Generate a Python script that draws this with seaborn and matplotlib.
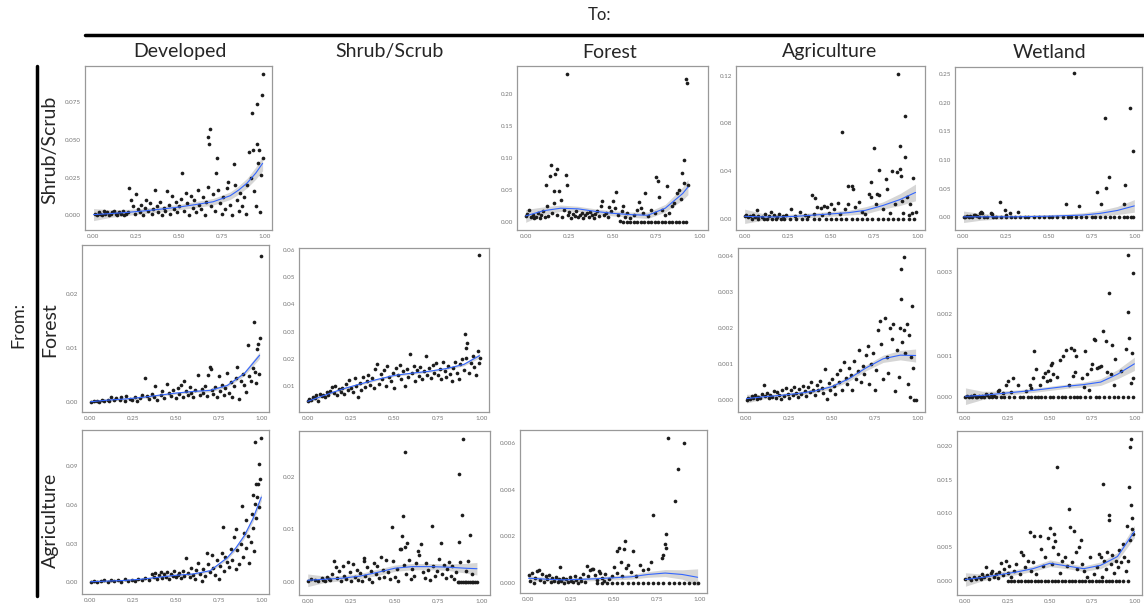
import numpy as np
import matplotlib
matplotlib.use("Agg")
import matplotlib.pyplot as plt
import seaborn as sns
from matplotlib.ticker import FormatStrFormatter

# --- 1. DATA ---

COLUMNS = ["Developed", "Shrub/Scrub", "Forest", "Agriculture", "Wetland"]
ROWS = ["Shrub/Scrub", "Forest", "Agriculture"]
X_TICKS = [0.0, 0.25, 0.5, 0.75, 1.0]

# Shrub/Scrub -> Developed
sd_x = [0.01, 0.02, 0.03, 0.04, 0.05, 0.06, 0.07, 0.08, 0.09, 0.10, 0.11, 0.12, 0.13, 0.14, 0.15, 0.16, 0.17, 0.18, 0.19, 0.20,
        0.21, 0.22, 0.23, 0.24, 0.25, 0.26, 0.27, 0.28, 0.29, 0.30, 0.31, 0.32, 0.33, 0.34, 0.35, 0.36, 0.37, 0.38, 0.39, 0.40,
        0.41, 0.42, 0.43, 0.44, 0.45, 0.46, 0.47, 0.48, 0.49, 0.50, 0.51, 0.52, 0.53, 0.54, 0.55, 0.56, 0.57, 0.58, 0.59, 0.60,
        0.61, 0.62, 0.63, 0.64, 0.65, 0.66, 0.67, 0.672, 0.676, 0.684, 0.69, 0.70, 0.71, 0.715, 0.723, 0.73, 0.74, 0.75,
        0.76, 0.77, 0.78, 0.79, 0.80, 0.81, 0.82, 0.83, 0.84, 0.85, 0.86, 0.87, 0.88, 0.89, 0.90, 0.91, 0.92, 0.93, 0.935,
        0.94, 0.95, 0.955, 0.96, 0.965, 0.97, 0.975, 0.98, 0.985, 0.99, 0.992]
sd_y = [0.001, 0.000, 0.002, 0.001, 0.000, 0.003, 0.001, 0.002, 0.000, 0.001, 0.002, 0.003, 0.001, 0.000, 0.002, 0.001, 0.003, 0.000, 0.001, 0.002,
        0.018, 0.010, 0.006, 0.001, 0.014, 0.004, 0.002, 0.007, 0.000, 0.005, 0.010, 0.003, 0.008, 0.001, 0.004, 0.017, 0.006, 0.002, 0.009, 0.000,
        0.005, 0.003, 0.016, 0.007, 0.001, 0.013, 0.004, 0.009, 0.002, 0.006, 0.011, 0.028, 0.003, 0.015, 0.008, 0.000, 0.013, 0.005, 0.010, 0.002,
        0.017, 0.007, 0.004, 0.012, 0.000, 0.009, 0.019, 0.052, 0.047, 0.057, 0.006, 0.014, 0.003, 0.028, 0.038, 0.017, 0.008, 0.001,
        0.012, 0.004, 0.018, 0.022, 0.007, 0.000, 0.034, 0.020, 0.010, 0.003, 0.015, 0.006, 0.012, 0.001, 0.020, 0.042, 0.025, 0.068, 0.043,
        0.016, 0.006, 0.074, 0.047, 0.035, 0.043, 0.002, 0.027, 0.080, 0.094, 0.038]
sd_zero = []
sd_fit_x = [0.0, 0.1, 0.2, 0.3, 0.4, 0.5, 0.6, 0.7, 0.8, 0.85, 0.9, 0.95, 0.99]
sd_fit_y = [0.0005, 0.0012, 0.0020, 0.0030, 0.0042, 0.0055, 0.0072, 0.0090, 0.0130, 0.0168, 0.0215, 0.0280, 0.0345]
sd_band = [0.0040, 0.0025, 0.0020, 0.0018, 0.0018, 0.0018, 0.0020, 0.0022, 0.0025, 0.0028, 0.0032, 0.0040, 0.0050]

# Shrub/Scrub -> Forest
sf_x = [0.00, 0.01, 0.02, 0.03, 0.04, 0.05, 0.06, 0.07, 0.08, 0.09, 0.10, 0.11, 0.114, 0.12, 0.13, 0.14, 0.145, 0.15, 0.16, 0.162,
        0.168, 0.177, 0.18, 0.19, 0.20, 0.21, 0.22, 0.23, 0.234, 0.237, 0.24, 0.25, 0.26, 0.27, 0.28, 0.29, 0.30, 0.31, 0.32, 0.33,
        0.34, 0.35, 0.36, 0.37, 0.38, 0.39, 0.40, 0.41, 0.42, 0.43, 0.44, 0.45, 0.46, 0.47, 0.48, 0.49, 0.50, 0.51, 0.52, 0.53,
        0.54, 0.55, 0.56, 0.57, 0.58, 0.60, 0.62, 0.64, 0.65, 0.66, 0.67, 0.686, 0.70, 0.72, 0.74, 0.749, 0.76, 0.765, 0.78, 0.80,
        0.811, 0.82, 0.84, 0.85, 0.87, 0.88, 0.89, 0.897, 0.905, 0.91, 0.92, 0.926, 0.93]
sf_y = [0.010, 0.013, 0.020, 0.008, 0.011, 0.006, 0.009, 0.015, 0.007, 0.012, 0.018, 0.008, 0.059, 0.025, 0.010, 0.072, 0.089, 0.014, 0.030, 0.049,
        0.076, 0.084, 0.012, 0.049, 0.035, 0.009, 0.020, 0.074, 0.232, 0.058, 0.011, 0.016, 0.007, 0.013, 0.010, 0.018, 0.008, 0.012, 0.015, 0.006,
        0.011, 0.014, 0.009, 0.016, 0.012, 0.007, 0.013, 0.017, 0.010, 0.025, 0.034, 0.012, 0.015, 0.008, 0.024, 0.017, 0.034, 0.022, 0.047, 0.011,
        0.002, 0.018, 0.026, 0.009, 0.015, 0.006, 0.012, 0.019, 0.031, 0.023, 0.014, 0.045, 0.010, 0.020, 0.015, 0.071, 0.065, 0.039, 0.020, 0.012,
        0.057, 0.015, 0.025, 0.030, 0.045, 0.050, 0.036, 0.077, 0.061, 0.097, 0.223, 0.217, 0.058]
sf_zero = [0.56, 0.58, 0.60, 0.62, 0.64, 0.66, 0.68, 0.70, 0.72, 0.74, 0.76, 0.78, 0.80, 0.82, 0.84, 0.86, 0.88, 0.90, 0.92]
sf_fit_x = [0.0, 0.1, 0.2, 0.3, 0.4, 0.5, 0.6, 0.7, 0.8, 0.9, 0.93]
sf_fit_y = [0.010, 0.018, 0.022, 0.021, 0.017, 0.014, 0.012, 0.011, 0.022, 0.045, 0.055]
sf_band = [0.010, 0.006, 0.005, 0.004, 0.004, 0.004, 0.004, 0.005, 0.006, 0.010, 0.012]

# Shrub/Scrub -> Agriculture
sa_x = [0.00, 0.01, 0.02, 0.03, 0.04, 0.05, 0.06, 0.07, 0.08, 0.10, 0.12, 0.14, 0.15, 0.17, 0.19, 0.20, 0.22, 0.24, 0.27, 0.29,
        0.32, 0.35, 0.37, 0.39, 0.40, 0.41, 0.42, 0.44, 0.45, 0.46, 0.48, 0.49, 0.50, 0.52, 0.54, 0.55, 0.567, 0.58, 0.597, 0.60,
        0.62, 0.63, 0.64, 0.66, 0.68, 0.70, 0.72, 0.73, 0.735, 0.747, 0.76, 0.765, 0.78, 0.779, 0.80, 0.82, 0.827, 0.84, 0.856, 0.87,
        0.884, 0.891, 0.899, 0.90, 0.906, 0.91, 0.92, 0.929, 0.93, 0.94, 0.95, 0.96, 0.97, 0.977, 0.99]
sa_y = [0.002, 0.003, 0.001, 0.002, 0.000, 0.003, 0.001, 0.007, 0.002, 0.001, 0.004, 0.002, 0.006, 0.003, 0.001, 0.004, 0.002, 0.003, 0.008, 0.002,
        0.006, 0.003, 0.002, 0.020, 0.004, 0.017, 0.010, 0.009, 0.003, 0.011, 0.010, 0.005, 0.012, 0.008, 0.013, 0.004, 0.0725, 0.008, 0.027, 0.012,
        0.027, 0.025, 0.010, 0.014, 0.006, 0.004, 0.021, 0.031, 0.018, 0.059, 0.012, 0.021, 0.020, 0.041, 0.008, 0.033, 0.025, 0.005, 0.040, 0.012,
        0.039, 0.121, 0.061, 0.042, 0.036, 0.015, 0.005, 0.052, 0.0857, 0.018, 0.003, 0.012, 0.005, 0.034, 0.006]
sa_zero = [0.08, 0.11, 0.13, 0.16, 0.18, 0.21, 0.23, 0.26, 0.30, 0.33, 0.36, 0.40, 0.43, 0.47, 0.50, 0.53, 0.56, 0.59, 0.62, 0.65,
           0.68, 0.71, 0.74, 0.77, 0.80, 0.83, 0.86, 0.89, 0.92, 0.95, 0.98]
sa_fit_x = [0.0, 0.1, 0.2, 0.3, 0.4, 0.5, 0.6, 0.7, 0.8, 0.9, 0.99]
sa_fit_y = [0.002, 0.0015, 0.0015, 0.002, 0.003, 0.004, 0.005, 0.007, 0.011, 0.016, 0.022]
sa_band = [0.006, 0.003, 0.002, 0.002, 0.002, 0.002, 0.002, 0.003, 0.003, 0.005, 0.007]

# Shrub/Scrub -> Wetland
sw_x = [0.02, 0.04, 0.06, 0.07, 0.08, 0.096, 0.101, 0.111, 0.159, 0.164, 0.216, 0.24, 0.247, 0.273, 0.32, 0.598, 0.645, 0.675,
        0.784, 0.805, 0.83, 0.837, 0.853, 0.94, 0.943, 0.977, 0.994]
sw_y = [0.002, 0.003, 0.004, 0.005, 0.003, 0.007, 0.009, 0.008, 0.0075, 0.006, 0.026, 0.013, 0.004, 0.0075, 0.010, 0.023, 0.251, 0.019,
        0.044, 0.023, 0.174, 0.051, 0.071, 0.023, 0.057, 0.190, 0.116]
sw_zero = [0.00, 0.01, 0.03, 0.05, 0.09, 0.12, 0.14, 0.17, 0.19, 0.22, 0.25, 0.28, 0.30, 0.33, 0.36, 0.38, 0.41, 0.44, 0.47, 0.50,
           0.52, 0.55, 0.58, 0.61, 0.63, 0.66, 0.69, 0.72, 0.75, 0.77, 0.80, 0.83, 0.86, 0.88, 0.91, 0.94, 0.96, 0.98, 0.99]
sw_fit_x = [0.0, 0.1, 0.2, 0.3, 0.4, 0.5, 0.6, 0.7, 0.8, 0.9, 1.0]
sw_fit_y = [0.001, 0.001, 0.001, 0.001, 0.0015, 0.002, 0.003, 0.004, 0.007, 0.012, 0.020]
sw_band = [0.010, 0.006, 0.004, 0.003, 0.003, 0.003, 0.003, 0.004, 0.005, 0.007, 0.011]

# Forest -> Developed
fd_x = [0.00, 0.02, 0.04, 0.05, 0.07, 0.08, 0.10, 0.11, 0.12, 0.14, 0.15, 0.17, 0.18, 0.20, 0.21, 0.23, 0.24, 0.26, 0.27, 0.29,
        0.30, 0.32, 0.33, 0.34, 0.36, 0.37, 0.38, 0.39, 0.41, 0.42, 0.43, 0.45, 0.46, 0.47, 0.48, 0.50, 0.51, 0.52, 0.53, 0.54,
        0.55, 0.56, 0.57, 0.58, 0.59, 0.60, 0.61, 0.63, 0.64, 0.65, 0.66, 0.67, 0.68, 0.69, 0.70, 0.705, 0.71, 0.72, 0.73, 0.74,
        0.75, 0.76, 0.77, 0.78, 0.79, 0.80, 0.81, 0.82, 0.83, 0.84, 0.85, 0.86, 0.87, 0.88, 0.89, 0.90, 0.91, 0.92, 0.93, 0.94,
        0.95, 0.96, 0.965, 0.97, 0.975, 0.98, 0.985, 0.99, 0.998]
fd_y = [0.0000, 0.0001, 0.0002, 0.0000, 0.0003, 0.0001, 0.0004, 0.0002, 0.0009, 0.0003, 0.0006, 0.0004, 0.0008, 0.0002, 0.0011, 0.0005, 0.0003, 0.0009, 0.0002, 0.0007,
        0.0013, 0.0043, 0.0010, 0.0005, 0.0015, 0.0008, 0.0029, 0.0004, 0.0012, 0.0019, 0.0007, 0.0033, 0.0016, 0.0010, 0.0022, 0.0006, 0.0025, 0.0014, 0.0031, 0.0009,
        0.0038, 0.0020, 0.0012, 0.0027, 0.0016, 0.0008, 0.0021, 0.0049, 0.0013, 0.0024, 0.0017, 0.0030, 0.0010, 0.0049, 0.0065, 0.0060, 0.0022, 0.0015, 0.0028, 0.0009,
        0.0047, 0.0019, 0.0031, 0.0012, 0.0025, 0.0053, 0.0016, 0.0036, 0.0008, 0.0029, 0.0044, 0.0065, 0.0005, 0.0038, 0.0052, 0.0031, 0.0018, 0.0105, 0.0048, 0.0039,
        0.0063, 0.0147, 0.0055, 0.0035, 0.0097, 0.0106, 0.0052, 0.0117, 0.0270]
fd_zero = []
fd_fit_x = [0.0, 0.1, 0.2, 0.3, 0.4, 0.5, 0.6, 0.7, 0.8, 0.9, 0.99]
fd_fit_y = [0.0000, 0.0003, 0.0005, 0.0008, 0.0012, 0.0016, 0.0019, 0.0021, 0.0030, 0.0052, 0.0086]
fd_band = [0.0003, 0.0002, 0.0002, 0.0002, 0.0002, 0.0002, 0.0002, 0.0003, 0.0003, 0.0004, 0.0006]

# Forest -> Shrub/Scrub
fs_x = [0.00, 0.01, 0.02, 0.03, 0.04, 0.05, 0.06, 0.07, 0.08, 0.09, 0.10, 0.11, 0.12, 0.13, 0.14, 0.15, 0.16, 0.17, 0.18, 0.19,
        0.20, 0.21, 0.22, 0.23, 0.24, 0.25, 0.26, 0.27, 0.28, 0.29, 0.30, 0.31, 0.32, 0.33, 0.34, 0.35, 0.36, 0.37, 0.38, 0.39,
        0.40, 0.41, 0.42, 0.43, 0.44, 0.45, 0.46, 0.47, 0.48, 0.49, 0.50, 0.51, 0.52, 0.53, 0.54, 0.55, 0.56, 0.57, 0.58, 0.59,
        0.60, 0.61, 0.62, 0.63, 0.64, 0.65, 0.66, 0.67, 0.68, 0.69, 0.70, 0.71, 0.72, 0.73, 0.74, 0.75, 0.76, 0.77, 0.78, 0.79,
        0.80, 0.81, 0.82, 0.83, 0.84, 0.85, 0.86, 0.87, 0.88, 0.89, 0.90, 0.907, 0.91, 0.914, 0.92, 0.93, 0.94, 0.95, 0.96, 0.97,
        0.98, 0.985, 0.99, 0.995]
fs_y = [0.0045, 0.0055, 0.0050, 0.0062, 0.0058, 0.0068, 0.0048, 0.0072, 0.0065, 0.0070, 0.0062, 0.0078, 0.0070, 0.0083, 0.0098, 0.0075, 0.0102, 0.0068, 0.0090, 0.0080,
        0.0095, 0.0072, 0.0108, 0.0085, 0.0122, 0.0093, 0.0078, 0.0130, 0.0100, 0.0062, 0.0112, 0.0088, 0.0135, 0.0098, 0.0120, 0.0140, 0.0105, 0.0130, 0.0095, 0.0162,
        0.0180, 0.0110, 0.0145, 0.0125, 0.0160, 0.0100, 0.0175, 0.0135, 0.0118, 0.0150, 0.0092, 0.0168, 0.0140, 0.0178, 0.0125, 0.0155, 0.0102, 0.0165, 0.0135, 0.0218,
        0.0148, 0.0175, 0.0120, 0.0160, 0.0138, 0.0172, 0.0125, 0.0155, 0.0210, 0.0142, 0.0168, 0.0130, 0.0178, 0.0150, 0.0185, 0.0140, 0.0165, 0.0125, 0.0190, 0.0155,
        0.0135, 0.0175, 0.0145, 0.0120, 0.0168, 0.0190, 0.0150, 0.0128, 0.0180, 0.0200, 0.0160, 0.0290, 0.0205, 0.0240, 0.0260, 0.0150, 0.0185, 0.0210, 0.0170, 0.0140,
        0.0228, 0.0185, 0.0580, 0.0205]
fs_zero = []
fs_fit_x = [0.0, 0.1, 0.2, 0.3, 0.4, 0.5, 0.6, 0.7, 0.8, 0.9, 0.99]
fs_fit_y = [0.0045, 0.0068, 0.0090, 0.0108, 0.0125, 0.0140, 0.0148, 0.0155, 0.0165, 0.0180, 0.0212]
fs_band = [0.0007, 0.0004, 0.0004, 0.0004, 0.0004, 0.0004, 0.0004, 0.0004, 0.0004, 0.0005, 0.0008]

# Forest -> Agriculture
fa_x = [0.00, 0.01, 0.02, 0.03, 0.04, 0.05, 0.06, 0.07, 0.08, 0.09, 0.10, 0.11, 0.12, 0.13, 0.14, 0.15, 0.16, 0.17, 0.18, 0.19,
        0.20, 0.21, 0.22, 0.23, 0.24, 0.25, 0.26, 0.27, 0.28, 0.29, 0.30, 0.31, 0.32, 0.33, 0.34, 0.35, 0.36, 0.37, 0.38, 0.39,
        0.40, 0.41, 0.42, 0.43, 0.44, 0.45, 0.46, 0.47, 0.48, 0.49, 0.50, 0.51, 0.52, 0.53, 0.54, 0.55, 0.56, 0.57, 0.58, 0.59,
        0.60, 0.61, 0.62, 0.63, 0.64, 0.65, 0.66, 0.67, 0.68, 0.69, 0.70, 0.71, 0.72, 0.73, 0.74, 0.75, 0.76, 0.77, 0.78, 0.79,
        0.80, 0.81, 0.82, 0.83, 0.84, 0.85, 0.86, 0.87, 0.88, 0.89, 0.90, 0.903, 0.907, 0.91, 0.92, 0.924, 0.93, 0.94, 0.945, 0.95,
        0.96, 0.965, 0.969, 0.975, 0.98, 0.99]
fa_y = [0.00002, 0.00008, 0.00004, 0.00012, 0.00006, 0.00015, 0.00003, 0.00010, 0.00007, 0.00018, 0.00042, 0.00012, 0.00020, 0.00006, 0.00016, 0.00010, 0.00025, 0.00008, 0.00022, 0.00014,
        0.00004, 0.00030, 0.00012, 0.00035, 0.00018, 0.00008, 0.00028, 0.00015, 0.00038, 0.00020, 0.00010, 0.00032, 0.00018, 0.00040, 0.00025, 0.00012, 0.00036, 0.00022, 0.00050, 0.00030,
        0.00015, 0.00042, 0.00028, 0.00055, 0.00035, 0.00020, 0.00088, 0.00005, 0.00048, 0.00030, 0.00058, 0.00040, 0.00018, 0.00072, 0.00050, 0.00085, 0.00030, 0.00105, 0.00062, 0.00045,
        0.00090, 0.00070, 0.00030, 0.00110, 0.00058, 0.00080, 0.00138, 0.00050, 0.00095, 0.00072, 0.00125, 0.00150, 0.00045, 0.00100, 0.00130, 0.00030, 0.00085, 0.00195, 0.00220, 0.00155,
        0.00060, 0.00227, 0.00120, 0.00075, 0.00200, 0.00170, 0.00210, 0.00025, 0.00140, 0.00065, 0.00200, 0.00362, 0.00280, 0.00160, 0.00195, 0.00397, 0.00130, 0.00210, 0.00045, 0.00180,
        0.00010, 0.00120, 0.00262, 0.00090, 0.00000, 0.00000]
fa_zero = []
fa_fit_x = [0.0, 0.1, 0.2, 0.3, 0.4, 0.5, 0.6, 0.7, 0.8, 0.9, 0.99]
fa_fit_y = [0.00005, 0.00010, 0.00014, 0.00019, 0.00026, 0.00038, 0.00060, 0.00090, 0.00115, 0.00125, 0.00124]
fa_band = [0.00012, 0.00006, 0.00005, 0.00005, 0.00005, 0.00006, 0.00007, 0.00008, 0.00010, 0.00013, 0.00018]

# Forest -> Wetland
fw_x = [0.01, 0.03, 0.05, 0.08, 0.10, 0.12, 0.13, 0.15, 0.17, 0.19, 0.20, 0.22, 0.24, 0.25, 0.27, 0.28, 0.31, 0.36, 0.38, 0.39,
        0.40, 0.408, 0.42, 0.44, 0.46, 0.47, 0.48, 0.49, 0.50, 0.507, 0.515, 0.52, 0.54, 0.56, 0.578, 0.598, 0.61, 0.627, 0.635, 0.645,
        0.65, 0.656, 0.69, 0.70, 0.709, 0.72, 0.73, 0.745, 0.75, 0.761, 0.765, 0.78, 0.79, 0.80, 0.816, 0.833, 0.84, 0.847, 0.86, 0.87,
        0.88, 0.884, 0.92, 0.948, 0.961, 0.963, 0.971, 0.98, 0.984, 0.99, 0.994]
fw_y = [0.00003, 0.00002, 0.00004, 0.00002, 0.00003, 0.00008, 0.00005, 0.00007, 0.00003, 0.00014, 0.00016, 0.00009, 0.00029, 0.00039, 0.00012, 0.00045, 0.00028, 0.00015, 0.00030, 0.00022,
        0.00045, 0.00112, 0.00068, 0.00030, 0.00048, 0.00058, 0.00038, 0.00062, 0.00042, 0.00078, 0.00082, 0.00055, 0.00048, 0.00090, 0.00098, 0.00114, 0.00030, 0.00118, 0.00050, 0.00114,
        0.00060, 0.00098, 0.00045, 0.00025, 0.00111, 0.00055, 0.00018, 0.00068, 0.00080, 0.00141, 0.00138, 0.00070, 0.00072, 0.00075, 0.00160, 0.00136, 0.00060, 0.00250, 0.00055, 0.00125,
        0.00030, 0.00092, 0.00062, 0.00115, 0.00204, 0.00342, 0.00142, 0.00035, 0.00106, 0.00045, 0.00298]
fw_zero = [0.00, 0.02, 0.04, 0.06, 0.07, 0.09, 0.11, 0.14, 0.16, 0.18, 0.21, 0.23, 0.26, 0.29, 0.32, 0.34, 0.37, 0.39, 0.41, 0.43,
           0.45, 0.47, 0.50, 0.52, 0.55, 0.57, 0.59, 0.62, 0.64, 0.66, 0.68, 0.71, 0.74, 0.77, 0.79, 0.82, 0.85, 0.88, 0.90, 0.93,
           0.96, 0.99]
fw_fit_x = [0.0, 0.1, 0.2, 0.3, 0.4, 0.5, 0.6, 0.7, 0.8, 0.9, 1.0]
fw_fit_y = [0.00002, 0.00004, 0.00008, 0.00012, 0.00016, 0.00021, 0.00026, 0.00030, 0.00036, 0.00055, 0.00080]
fw_band = [0.00020, 0.00010, 0.00006, 0.00005, 0.00005, 0.00005, 0.00005, 0.00006, 0.00008, 0.00011, 0.00016]

# Agriculture -> Developed
ad_x = [0.00, 0.02, 0.04, 0.06, 0.08, 0.10, 0.12, 0.14, 0.16, 0.18, 0.20, 0.22, 0.24, 0.26, 0.28, 0.30, 0.32, 0.34, 0.36, 0.37,
        0.38, 0.39, 0.40, 0.41, 0.42, 0.43, 0.44, 0.45, 0.46, 0.47, 0.48, 0.49, 0.50, 0.51, 0.52, 0.53, 0.54, 0.55, 0.56, 0.57,
        0.58, 0.59, 0.60, 0.61, 0.62, 0.63, 0.64, 0.65, 0.66, 0.67, 0.68, 0.69, 0.70, 0.71, 0.72, 0.73, 0.74, 0.75, 0.76, 0.77,
        0.776, 0.78, 0.79, 0.80, 0.81, 0.82, 0.83, 0.84, 0.85, 0.853, 0.86, 0.87, 0.88, 0.885, 0.89, 0.90, 0.908, 0.91, 0.92, 0.93,
        0.94, 0.943, 0.95, 0.954, 0.96, 0.962, 0.965, 0.967, 0.97, 0.977, 0.98, 0.985, 0.989, 0.994, 0.998]
ad_y = [0.0005, 0.0012, 0.0003, 0.0010, 0.0016, 0.0005, 0.0022, 0.0010, 0.0018, 0.0006, 0.0025, 0.0012, 0.0020, 0.0008, 0.0030, 0.0015, 0.0035, 0.0022, 0.0065, 0.0040,
        0.0070, 0.0028, 0.0055, 0.0080, 0.0035, 0.0062, 0.0045, 0.0078, 0.0030, 0.0068, 0.0050, 0.0085, 0.0040, 0.0060, 0.0075, 0.0035, 0.0090, 0.0052, 0.0185, 0.0070,
        0.0042, 0.0110, 0.0060, 0.0030, 0.0095, 0.0150, 0.0065, 0.0012, 0.0100, 0.0050, 0.0225, 0.0140, 0.0080, 0.0210, 0.0110, 0.0060, 0.0175, 0.0025, 0.0130, 0.0230,
        0.0430, 0.0090, 0.0200, 0.0160, 0.0120, 0.0260, 0.0170, 0.0350, 0.0100, 0.0410, 0.0250, 0.0140, 0.0300, 0.0590, 0.0200, 0.0380, 0.0480, 0.0270, 0.0360, 0.0150,
        0.0310, 0.0530, 0.0420, 0.0678, 0.0240, 0.1086, 0.0610, 0.0761, 0.0500, 0.0660, 0.0761, 0.0580, 0.0916, 0.0800, 0.1117]
ad_zero = []
ad_fit_x = [0.0, 0.1, 0.2, 0.3, 0.4, 0.5, 0.6, 0.7, 0.8, 0.85, 0.9, 0.95, 1.0]
ad_fit_y = [0.0005, 0.0010, 0.0015, 0.0025, 0.0040, 0.0055, 0.0065, 0.0090, 0.0190, 0.0265, 0.0360, 0.0490, 0.0660]
ad_band = [0.0015, 0.0008, 0.0007, 0.0007, 0.0007, 0.0008, 0.0008, 0.0010, 0.0014, 0.0016, 0.0020, 0.0024, 0.0030]

# Agriculture -> Shrub/Scrub
as_x = [0.00, 0.02, 0.04, 0.06, 0.08, 0.09, 0.10, 0.11, 0.12, 0.13, 0.14, 0.15, 0.16, 0.17, 0.18, 0.19, 0.20, 0.21, 0.22, 0.23,
        0.24, 0.25, 0.26, 0.27, 0.28, 0.29, 0.30, 0.31, 0.32, 0.325, 0.33, 0.34, 0.35, 0.36, 0.37, 0.38, 0.39, 0.40, 0.41, 0.42,
        0.43, 0.44, 0.45, 0.46, 0.47, 0.483, 0.49, 0.50, 0.51, 0.52, 0.53, 0.534, 0.538, 0.545, 0.55, 0.555, 0.558, 0.565, 0.568, 0.58,
        0.59, 0.60, 0.61, 0.62, 0.63, 0.64, 0.652, 0.66, 0.67, 0.68, 0.69, 0.70, 0.712, 0.72, 0.73, 0.74, 0.75, 0.763, 0.77, 0.78,
        0.79, 0.80, 0.81, 0.82, 0.83, 0.84, 0.85, 0.865, 0.867, 0.875, 0.885, 0.893, 0.91, 0.92, 0.93, 0.94]
as_y = [0.0002, 0.0005, 0.0003, 0.0001, 0.0008, 0.0004, 0.0002, 0.0010, 0.0006, 0.0003, 0.0015, 0.0040, 0.0028, 0.0008, 0.0020, 0.0002, 0.0030, 0.0012, 0.0005, 0.0038,
        0.0018, 0.0002, 0.0034, 0.0010, 0.0022, 0.0004, 0.0016, 0.0002, 0.0045, 0.0040, 0.0012, 0.0028, 0.0006, 0.0020, 0.0000, 0.0036, 0.0015, 0.0030, 0.0008, 0.0048,
        0.0022, 0.0010, 0.0042, 0.0018, 0.0005, 0.0105, 0.0040, 0.0010, 0.0025, 0.0002, 0.0062, 0.0062, 0.0087, 0.0125, 0.0032, 0.0066, 0.0248, 0.0015, 0.0073, 0.0042,
        0.0005, 0.0025, 0.0012, 0.0035, 0.0058, 0.0052, 0.0072, 0.0018, 0.0008, 0.0036, 0.0022, 0.0003, 0.0107, 0.0030, 0.0012, 0.0020, 0.0044, 0.0074, 0.0015, 0.0033,
        0.0008, 0.0025, 0.0038, 0.0012, 0.0030, 0.0005, 0.0018, 0.0075, 0.0205, 0.0038, 0.0127, 0.0272, 0.0020, 0.0040, 0.0089, 0.0015]
as_zero = [0.86, 0.87, 0.88, 0.89, 0.90, 0.91, 0.92, 0.93, 0.94, 0.95, 0.96, 0.97]
as_fit_x = [0.0, 0.1, 0.2, 0.3, 0.4, 0.5, 0.6, 0.7, 0.8, 0.9, 0.97]
as_fit_y = [0.0003, 0.0005, 0.0007, 0.0011, 0.0018, 0.0026, 0.0029, 0.0029, 0.0028, 0.0026, 0.0025]
as_band = [0.0012, 0.0006, 0.0005, 0.0005, 0.0006, 0.0006, 0.0006, 0.0006, 0.0006, 0.0009, 0.0012]

# Agriculture -> Forest
af_x = [0.00, 0.01, 0.02, 0.03, 0.04, 0.05, 0.06, 0.07, 0.08, 0.09, 0.10, 0.11, 0.12, 0.13, 0.14, 0.15, 0.16, 0.17, 0.18, 0.185,
        0.19, 0.20, 0.21, 0.22, 0.23, 0.24, 0.25, 0.26, 0.27, 0.28, 0.29, 0.30, 0.31, 0.32, 0.33, 0.34, 0.35, 0.36, 0.37, 0.38,
        0.39, 0.40, 0.41, 0.42, 0.43, 0.44, 0.45, 0.47, 0.49, 0.50, 0.516, 0.52, 0.531, 0.54, 0.55, 0.559, 0.566, 0.57, 0.58, 0.60,
        0.613, 0.63, 0.65, 0.67, 0.70, 0.72, 0.727, 0.779, 0.787, 0.80, 0.803, 0.807, 0.814, 0.857, 0.875, 0.912]
af_y = [0.00035, 0.00010, 0.00045, 0.00000, 0.00025, 0.00052, 0.00055, 0.00015, 0.00040, 0.00005, 0.00030, 0.00018, 0.00035, 0.00008, 0.00022, 0.00012, 0.00028, 0.00005, 0.00020, 0.00068,
        0.00010, 0.00025, 0.00002, 0.00018, 0.00008, 0.00028, 0.00012, 0.00005, 0.00030, 0.00015, 0.00002, 0.00022, 0.00010, 0.00040, 0.00005, 0.00075, 0.00030, 0.00055, 0.00062, 0.00060,
        0.00035, 0.00015, 0.00052, 0.00045, 0.00025, 0.00010, 0.00038, 0.00020, 0.00030, 0.00068, 0.00140, 0.00045, 0.00153, 0.00090, 0.00030, 0.00146, 0.00180, 0.00065, 0.00080, 0.00050,
        0.00136, 0.00030, 0.00080, 0.00055, 0.00060, 0.00090, 0.00292, 0.00110, 0.00120, 0.00170, 0.00150, 0.00210, 0.00620, 0.00350, 0.00488, 0.00597]
af_zero = [0.40, 0.43, 0.46, 0.49, 0.52, 0.55, 0.58, 0.61, 0.64, 0.67, 0.70, 0.73, 0.76, 0.79, 0.82, 0.85, 0.88, 0.91, 0.94, 0.97, 0.99]
af_fit_x = [0.0, 0.1, 0.2, 0.3, 0.4, 0.5, 0.6, 0.7, 0.8, 0.9, 0.99]
af_fit_y = [0.00022, 0.00018, 0.00015, 0.00017, 0.00020, 0.00024, 0.00028, 0.00038, 0.00044, 0.00038, 0.00026]
af_band = [0.00012, 0.00008, 0.00008, 0.00008, 0.00008, 0.00009, 0.00010, 0.00012, 0.00015, 0.00020, 0.00036]

# Agriculture -> Wetland
aw_x = [0.00, 0.02, 0.03, 0.05, 0.06, 0.08, 0.09, 0.10, 0.11, 0.12, 0.13, 0.14, 0.15, 0.16, 0.17, 0.18, 0.19, 0.20, 0.21, 0.22,
        0.23, 0.24, 0.25, 0.26, 0.27, 0.29, 0.30, 0.32, 0.33, 0.34, 0.35, 0.37, 0.38, 0.39, 0.40, 0.404, 0.42, 0.439, 0.449, 0.46,
        0.47, 0.487, 0.50, 0.51, 0.52, 0.526, 0.53, 0.54, 0.55, 0.56, 0.57, 0.59, 0.60, 0.61, 0.619, 0.63, 0.645, 0.652, 0.66, 0.67,
        0.681, 0.69, 0.70, 0.72, 0.74, 0.76, 0.78, 0.79, 0.80, 0.81, 0.817, 0.82, 0.83, 0.84, 0.847, 0.85, 0.86, 0.87, 0.88, 0.89,
        0.90, 0.91, 0.92, 0.93, 0.94, 0.95, 0.958, 0.965, 0.97, 0.972, 0.975, 0.978, 0.98, 0.984, 0.988, 0.99]
aw_y = [0.0002, 0.0004, 0.0001, 0.0005, 0.0002, 0.0006, 0.0003, 0.0010, 0.0005, 0.0021, 0.0008, 0.0003, 0.0012, 0.0015, 0.0006, 0.0010, 0.0004, 0.0013, 0.0027, 0.0009,
        0.0018, 0.0030, 0.0012, 0.0022, 0.0006, 0.0015, 0.0025, 0.0010, 0.0042, 0.0038, 0.0020, 0.0030, 0.0073, 0.0015, 0.0028, 0.0066, 0.0010, 0.0066, 0.0047, 0.0022,
        0.0035, 0.0064, 0.0078, 0.0025, 0.0050, 0.0069, 0.0059, 0.0168, 0.0040, 0.0012, 0.0030, 0.0035, 0.0022, 0.0106, 0.0080, 0.0028, 0.0074, 0.0043, 0.0018, 0.0050,
        0.0060, 0.0025, 0.0015, 0.0005, 0.0036, 0.0010, 0.0020, 0.0040, 0.0035, 0.0005, 0.0144, 0.0030, 0.0018, 0.0042, 0.0090, 0.0097, 0.0025, 0.0038, 0.0012, 0.0030,
        0.0020, 0.0045, 0.0028, 0.0055, 0.0035, 0.0015, 0.0081, 0.0030, 0.0139, 0.0199, 0.0060, 0.0112, 0.0210, 0.0093, 0.0077, 0.0070]
aw_zero = [0.25, 0.27, 0.29, 0.31, 0.33, 0.35, 0.37, 0.39, 0.41, 0.43, 0.45, 0.47, 0.49, 0.51, 0.53, 0.55, 0.57, 0.59, 0.61, 0.63,
           0.65, 0.67, 0.69, 0.71, 0.73, 0.75, 0.77, 0.79, 0.81, 0.83, 0.85, 0.87, 0.89, 0.91, 0.93, 0.96]
aw_fit_x = [0.0, 0.1, 0.2, 0.3, 0.4, 0.5, 0.6, 0.7, 0.8, 0.9, 1.0]
aw_fit_y = [0.0002, 0.0005, 0.0009, 0.0013, 0.0018, 0.0026, 0.0022, 0.0018, 0.0023, 0.0036, 0.0073]
aw_band = [0.0010, 0.0005, 0.0004, 0.0004, 0.0004, 0.0005, 0.0004, 0.0004, 0.0005, 0.0006, 0.0009]

# y ticks per panel
sd_yticks = [0.0, 0.025, 0.05, 0.075]
sf_yticks = [0.0, 0.05, 0.10, 0.15, 0.20]
sa_yticks = [0.0, 0.04, 0.08, 0.12]
sw_yticks = [0.0, 0.05, 0.10, 0.15, 0.20, 0.25]
fd_yticks = [0.0, 0.01, 0.02]
fs_yticks = [0.01, 0.02, 0.03, 0.04, 0.05, 0.06]
fa_yticks = [0.0, 0.001, 0.002, 0.003, 0.004]
fw_yticks = [0.0, 0.001, 0.002, 0.003]
ad_yticks = [0.0, 0.03, 0.06, 0.09]
as_yticks = [0.0, 0.01, 0.02]
af_yticks = [0.0, 0.002, 0.004, 0.006]
aw_yticks = [0.0, 0.005, 0.010, 0.015, 0.020]

# --- 2. LAYOUT (pixel boxes: left, top, right, bottom) ---
W, H = 1144, 604
panels = [
    (sd_x, sd_y, sd_zero, sd_fit_x, sd_fit_y, sd_band, sd_yticks, "%.3f", (-0.0097, 0.099), (85, 66, 272, 230)),
    (sf_x, sf_y, sf_zero, sf_fit_x, sf_fit_y, sf_band, sf_yticks, "%.2f", (-0.012, 0.244), (517, 66, 708, 230)),
    (sa_x, sa_y, sa_zero, sa_fit_x, sa_fit_y, sa_band, sa_yticks, "%.2f", (-0.0095, 0.128), (736, 66, 925, 230)),
    (sw_x, sw_y, sw_zero, sw_fit_x, sw_fit_y, sw_band, sw_yticks, "%.2f", (-0.022, 0.262), (955, 67, 1142, 230)),
    (fd_x, fd_y, fd_zero, fd_fit_x, fd_fit_y, fd_band, fd_yticks, "%.2f", (-0.0019, 0.029), (82, 245, 269, 412)),
    (fs_x, fs_y, fs_zero, fs_fit_x, fs_fit_y, fs_band, fs_yticks, "%.2f", (0.0006, 0.0606), (299, 248, 489, 412)),
    (fa_x, fa_y, fa_zero, fa_fit_x, fa_fit_y, fa_band, fa_yticks, "%.3f", (-0.00032, 0.00421), (738, 248, 925, 412)),
    (fw_x, fw_y, fw_zero, fw_fit_x, fw_fit_y, fw_band, fw_yticks, "%.3f", (-0.00036, 0.00359), (957, 248, 1142, 412)),
    (ad_x, ad_y, ad_zero, ad_fit_x, ad_fit_y, ad_band, ad_yticks, "%.2f", (-0.009, 0.118), (82, 430, 269, 594)),
    (as_x, as_y, as_zero, as_fit_x, as_fit_y, as_band, as_yticks, "%.2f", (-0.0025, 0.0287), (299, 431, 490, 595)),
    (af_x, af_y, af_zero, af_fit_x, af_fit_y, af_band, af_yticks, "%.3f", (-0.00041, 0.00654), (520, 430, 707, 593)),
    (aw_x, aw_y, aw_zero, aw_fit_x, aw_fit_y, aw_band, aw_yticks, "%.3f", (-0.0021, 0.0222), (957, 431, 1142, 595)),
]

sns.set_style("white")
plt.rcParams["font.family"] = ["Lato", "DejaVu Sans"]

fig = plt.figure(figsize=(W / 100, H / 100), dpi=100)

for px, py, pz, fx, fy, fb, yt, fmt, ylim, box in panels:
    l, t, r, b = box
    ax = fig.add_axes([l / W, 1 - b / H, (r - l) / W, (b - t) / H])
    fx = np.array(fx)
    fy = np.array(fy)
    fb = np.array(fb)
    xs = np.concatenate([np.array(px), np.array(pz)])
    ys = np.concatenate([np.array(py), np.zeros(len(pz))])
    # grey confidence band, then points, then the blue smooth on top
    ax.fill_between(fx, fy - fb, fy + fb, color="#999999", alpha=0.4, lw=0, zorder=1)
    sns.scatterplot(x=xs, y=ys, ax=ax, s=7, color="#1c1c1c", edgecolor=None, linewidth=0, zorder=2, legend=False)
    sns.lineplot(x=fx, y=fy, ax=ax, color="#3366FF", lw=0.8, zorder=3)
    ax.set_xlim(-0.05, 1.045)
    ax.set_ylim(*ylim)
    ax.set_xticks(X_TICKS)
    ax.set_yticks(yt)
    ax.xaxis.set_major_formatter(FormatStrFormatter("%.2f"))
    ax.yaxis.set_major_formatter(FormatStrFormatter(fmt))
    ax.tick_params(labelsize=4.5, colors="#888888", length=1.5, width=0.5, pad=1.5, labelcolor="#777777")
    for sp in ax.spines.values():
        sp.set_color("#999999")
        sp.set_linewidth(0.9)
    ax.set_xlabel("")
    ax.set_ylabel("")

# --- 3. HEADERS ---
fig.text(600 / W, 1 - 15 / H, "To:", ha="center", va="center", fontsize=12)
fig.add_artist(plt.Line2D([85 / W, 1.0], [1 - 35 / H, 1 - 35 / H], color="black", lw=2.5))
col_centers = [180, 390, 610, 830, 1050]
for name, cx in zip(COLUMNS, col_centers):
    fig.text(cx / W, 1 - 52 / H, name, ha="center", va="center", fontsize=14)

fig.text(18 / W, 1 - 325 / H, "From:", ha="center", va="center", fontsize=13, rotation=90)
fig.add_artist(plt.Line2D([37 / W, 37 / W], [1 - 66 / H, 1 - 596 / H], color="black", lw=2.5))
row_centers = [150, 330, 520]
for name, cy in zip(ROWS, row_centers):
    fig.text(50 / W, 1 - cy / H, name, ha="center", va="center", fontsize=14, rotation=90)

plt.savefig("out.png", dpi=100)
plt.close()
